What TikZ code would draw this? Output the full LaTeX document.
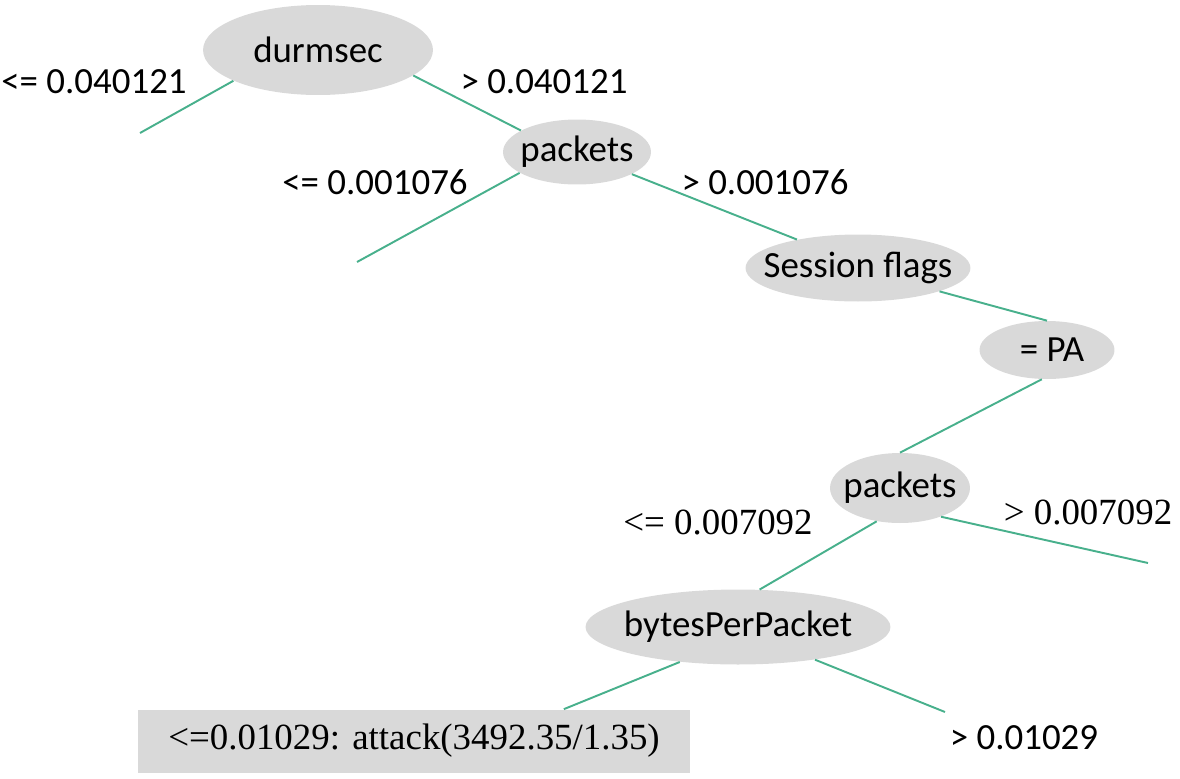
\documentclass[tikz,border=0pt]{standalone}
\usepackage{fontspec}
\setmainfont{Carlito}
\newfontfamily\timesfont{Liberation Serif}
\usetikzlibrary{shapes.geometric}
\definecolor{branchgreen}{RGB}{72,176,140}
\definecolor{nodegray}{RGB}{217,217,217}
\newcommand{\attrname}[1]{\makebox[0pt]{#1}}
\tikzset{
    attr/.style={ellipse, fill=nodegray, inner sep=0pt},
    branch/.style={draw=branchgreen, line width=1.1pt},
    cond/.style={inner sep=0pt},
    leafbox/.style={rectangle, fill=nodegray, inner sep=0pt, minimum width=11.04cm, minimum height=1.26cm}
}

\begin{document}
\begin{tikzpicture}[x=0.02cm, y=-0.02cm, font=\fontsize{21}{25}\selectfont]
    \useasboundingbox (0, 0) rectangle (1180, 778);

    \node[attr, minimum width=4.6cm, minimum height=1.8cm] (durmsec) at (318, 50) {\attrname{durmsec}};
    \node[attr, minimum width=2.96cm, minimum height=1.3cm] (packets) at (577, 152) {\attrname{packets}};
    \node[attr, minimum width=4.5cm, minimum height=1.34cm] (session) at (858, 268) {\attrname{Session flags}};
    \node[attr, minimum width=2.7cm, minimum height=1.16cm] (pa) at (1047, 350) {\attrname{\hspace{0.2cm}= PA}};
    \node[attr, minimum width=2.8cm, minimum height=1.4cm] (packetsb) at (900, 488) {\attrname{packets}};
    \node[attr, minimum width=6.1cm, minimum height=1.5cm] (bytes) at (738, 627) {\attrname{bytesPerPacket}};
    \node[leafbox] (leaf) at (414, 741) {\timesfont <=0.01029: attack(3492.35/1.35)};

    \coordinate (durmsecleft) at (140, 133);
    \coordinate (packetsleft) at (357, 262);
    \coordinate (packetsbright) at (1148, 563);
    \coordinate (bytesright) at (945, 712);

    \draw[branch] (durmsec.200) -- (durmsecleft);
    \draw[branch] (durmsec.-15) -- (packets.159);
    \draw[branch] (packets.200) -- (packetsleft);
    \draw[branch] (packets.-22) -- (session.155);
    \draw[branch] (session.-16) -- (pa.north);
    \draw[branch] (pa.-100) -- (packetsb.north);
    \draw[branch] (packetsb.235) -- (bytes.60);
    \draw[branch] (packetsb.-35) -- (packetsbright);
    \draw[branch] (bytes.211) -- (leaf.12);
    \draw[branch] (bytes.-23) -- (bytesright);

    \node[cond] (c1) at (94, 82) {<= 0.040121};
    \node[cond] (c2) at (544, 82) {> 0.040121};
    \node[cond] (c3) at (375, 182) {<= 0.001076};
    \node[cond] (c4) at (765, 182) {> 0.001076};
    \node[cond] (c5) at (718, 522) {\timesfont <= 0.007092};
    \node[cond] (c6) at (1088, 512) {\timesfont > 0.007092};
    \node[cond] (c7) at (1024, 738) {> 0.01029};
\end{tikzpicture}
\end{document}
